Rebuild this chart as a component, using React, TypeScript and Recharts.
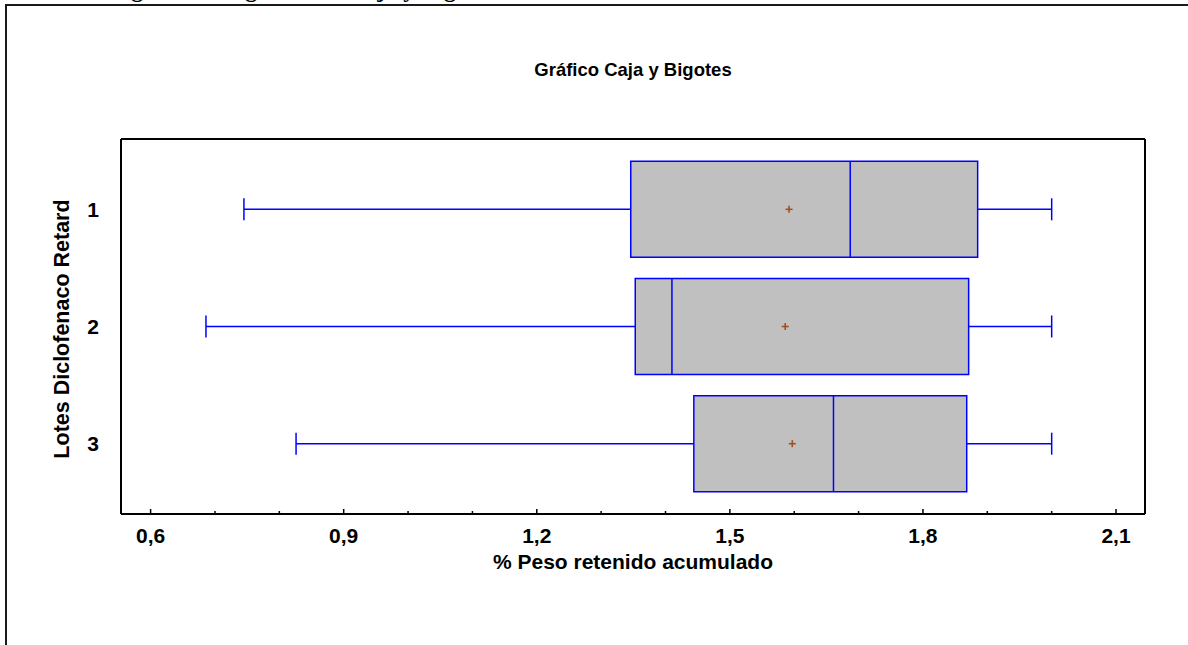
import {
  ReferenceArea,
  ReferenceLine,
  Scatter,
  ScatterChart,
  XAxis,
  YAxis
} from "recharts";

// lots (y categories) and box plot stats
const lots = [1, 2, 3];
const mins = [0.745, 0.686, 0.826];
const q1s = [1.346, 1.353, 1.444];
const medians = [1.687, 1.41, 1.661];
const q3s = [1.885, 1.871, 1.868];
const maxs = [2.0, 2.0, 2.0];
const means = [1.592, 1.586, 1.597];

const majorTicks = [0.6, 0.9, 1.2, 1.5, 1.8, 2.1];
const allTicks = [0.6, 0.7, 0.8, 0.9, 1.0, 1.1, 1.2, 1.3, 1.4, 1.5, 1.6, 1.7, 1.8, 1.9, 2.0, 2.1];

const BLUE = "#0000ff";
const FONT = '"Liberation Sans", Arial, sans-serif';
const BOX_HALF = 0.41;
const CAP_HALF = 0.094;

const meanPoints = lots.map((lot, i) => ({ x: means[i], y: lot }));

const isMajor = (v: number) => majorTicks.some(m => Math.abs(m - v) < 1e-6);

function BottomTick(props: any) {
  const { x, y, payload } = props;
  const major = isMajor(payload.value);
  return (
    <g>
      <line x1={x} x2={x} y1={y} y2={y - (major ? 5 : 3)} stroke="#000" strokeWidth={1.5} />
      {major && (
        <text x={x} y={y + 29} textAnchor="middle" fontFamily={FONT} fontWeight="bold" fontSize={21} fill="#000">
          {payload.value.toFixed(1).replace(".", ",")}
        </text>
      )}
    </g>
  );
}

function TopTick(props: any) {
  const { x, y, payload } = props;
  const major = isMajor(payload.value);
  return <line x1={x} x2={x} y1={y} y2={y + (major ? 6 : 3)} stroke="#000" strokeWidth={1.5} />;
}

function MeanMark(props: any) {
  const { cx, cy } = props;
  return (
    <g stroke="#a0501e" strokeWidth={1.6}>
      <line x1={cx - 3.5} x2={cx + 3.5} y1={cy} y2={cy} />
      <line x1={cx} x2={cx} y1={cy - 3.5} y2={cy + 3.5} />
    </g>
  );
}

export default function App() {
  return (
    <div style={{ position: "absolute", left: 0, top: 0, width: 1188, height: 645, background: "#fff", overflow: "hidden" }}>
      {/* caption above the frame, cut off by the page edge */}
      <svg style={{ position: "absolute", left: 0, top: 0 }} width={1188} height={6}>
        <text x={110} y={-3} fontFamily='"Liberation Serif", "Times New Roman", serif' fontWeight="bold" fontSize={24} fill="#000">
          Figura 4. Diagrama de Caja y Bigotes
        </text>
      </svg>
      <div style={{ position: "absolute", left: 5, top: 4, width: 1300, height: 800, border: "2px solid #1a1a1a" }} />

      <div style={{ position: "absolute", left: 0, width: 1266, top: 59, textAlign: "center", fontFamily: FONT, fontWeight: "bold", fontSize: 18.5 }}>
        Gráfico Caja y Bigotes
      </div>
      <div style={{ position: "absolute", left: 0, width: 1266, top: 550, textAlign: "center", fontFamily: FONT, fontWeight: "bold", fontSize: 21 }}>
        % Peso retenido acumulado
      </div>
      <div style={{ position: "absolute", left: 62, top: 329, width: 0, height: 0 }}>
        <div style={{ position: "absolute", transform: "translate(-50%, -50%) rotate(-90deg)", whiteSpace: "nowrap", fontFamily: FONT, fontWeight: "bold", fontSize: 21.5 }}>
          Lotes Diclofenaco Retard
        </div>
      </div>

      <div style={{ position: "absolute", left: 0, top: 0 }}>
        <ScatterChart width={1188} height={645} margin={{ top: 138, right: 42, bottom: 71, left: 0 }}>
          <XAxis
            type="number"
            dataKey="x"
            domain={[0.554, 2.145]}
            allowDataOverflow
            ticks={allTicks}
            interval={0}
            tickLine={false}
            tickSize={0}
            tickMargin={0}
            height={60}
            axisLine={{ stroke: "#000", strokeWidth: 2 }}
            tick={<BottomTick />}
          />
          <XAxis
            xAxisId="top"
            orientation="top"
            type="number"
            domain={[0.554, 2.145]}
            allowDataOverflow
            ticks={allTicks}
            interval={0}
            tickLine={false}
            tickSize={0}
            tickMargin={0}
            height={1}
            axisLine={{ stroke: "#000", strokeWidth: 2 }}
            tick={<TopTick />}
          />
          <YAxis
            type="number"
            dataKey="y"
            domain={[0.4, 3.6]}
            reversed
            allowDataOverflow
            ticks={lots}
            interval={0}
            tickLine={false}
            tickSize={0}
            tickMargin={22}
            width={121}
            axisLine={{ stroke: "#000", strokeWidth: 2 }}
            tick={{ fill: "#000", fontFamily: FONT, fontWeight: "bold", fontSize: 21 }}
          />
          <YAxis
            yAxisId="right"
            orientation="right"
            type="number"
            domain={[0.4, 3.6]}
            tick={false}
            tickLine={false}
            width={1}
            axisLine={{ stroke: "#000", strokeWidth: 2 }}
          />

          {lots.map((lot, i) => (
            <ReferenceLine
              key={`wl${lot}`}
              segment={[{ x: mins[i], y: lot }, { x: q1s[i], y: lot }]}
              stroke={BLUE}
              strokeWidth={1.5}
            />
          ))}
          {lots.map((lot, i) => (
            <ReferenceLine
              key={`wr${lot}`}
              segment={[{ x: q3s[i], y: lot }, { x: maxs[i], y: lot }]}
              stroke={BLUE}
              strokeWidth={1.5}
            />
          ))}
          {lots.map((lot, i) => (
            <ReferenceLine
              key={`cl${lot}`}
              segment={[{ x: mins[i], y: lot - CAP_HALF }, { x: mins[i], y: lot + CAP_HALF }]}
              stroke={BLUE}
              strokeWidth={1.5}
            />
          ))}
          {lots.map((lot, i) => (
            <ReferenceLine
              key={`cr${lot}`}
              segment={[{ x: maxs[i], y: lot - CAP_HALF }, { x: maxs[i], y: lot + CAP_HALF }]}
              stroke={BLUE}
              strokeWidth={1.5}
            />
          ))}
          {lots.map((lot, i) => (
            <ReferenceArea
              key={`box${lot}`}
              x1={q1s[i]}
              x2={q3s[i]}
              y1={lot - BOX_HALF}
              y2={lot + BOX_HALF}
              fill="#c0c0c0"
              fillOpacity={1}
              stroke={BLUE}
              strokeWidth={1.5}
            />
          ))}
          {lots.map((lot, i) => (
            <ReferenceLine
              key={`med${lot}`}
              segment={[{ x: medians[i], y: lot - BOX_HALF }, { x: medians[i], y: lot + BOX_HALF }]}
              stroke={BLUE}
              strokeWidth={1.5}
            />
          ))}

          <Scatter data={meanPoints} shape={<MeanMark />} isAnimationActive={false} />
        </ScatterChart>
      </div>
    </div>
  );
}
